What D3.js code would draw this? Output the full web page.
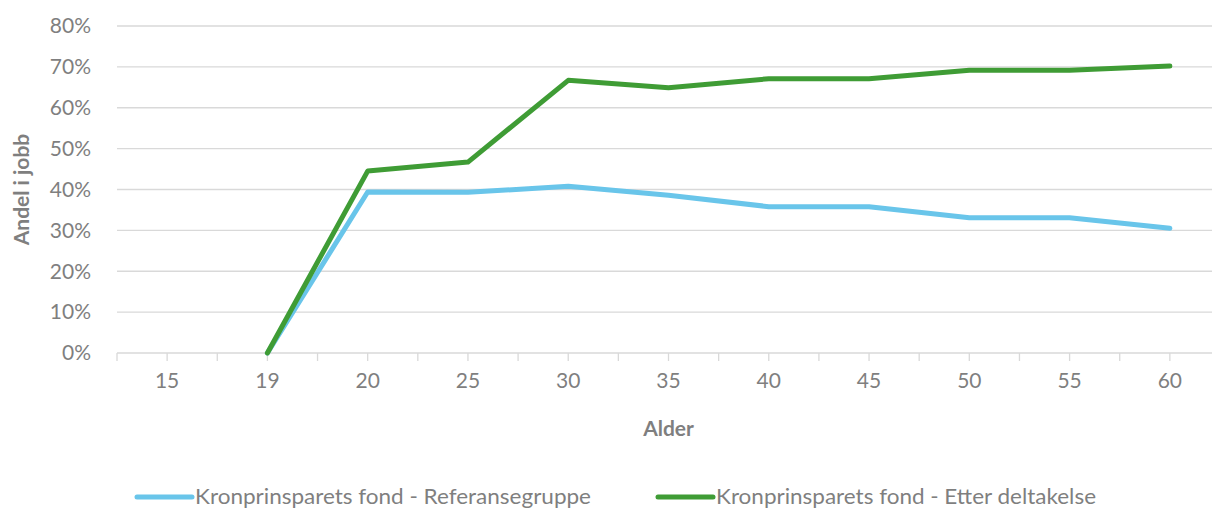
<!DOCTYPE html>
<html lang="no">
<head>
<meta charset="UTF-8">
<title>Andel i jobb</title>
<script src="https://cdn.jsdelivr.net/npm/d3@7/dist/d3.min.js"></script>
<style>
  body { margin: 0; background: #fff; }
  svg text { font-family: Lato, "Open Sans", sans-serif; fill: #7f7f7f; }
  .grid line { stroke: #d9d9d9; stroke-width: 1.3px; }
  .line { fill: none; stroke-width: 5px; stroke-linejoin: round; stroke-linecap: round; }
</style>
</head>
<body>
<div id="chart"></div>
<script>
// data
var ages = ["15", "19", "20", "25", "30", "35", "40", "45", "50", "55", "60"];
var referanse = [null, 0, 39.4, 39.3, 40.8, 38.6, 35.8, 35.8, 33.1, 33.1, 30.5];
var etter = [null, 0, 44.5, 46.7, 66.7, 64.9, 67.1, 67.1, 69.2, 69.2, 70.2];
var yTicks = [0, 10, 20, 30, 40, 50, 60, 70, 80];
var seriesNames = ["Kronprinsparets fond - Referansegruppe", "Kronprinsparets fond - Etter deltakelse"];
var colors = ["#69c5ea", "#3f9c35"];

var width = 1212, height = 509;
var plotLeft = 117, plotRight = 1220, plotTop = 26, plotBottom = 353;

var svg = d3.select("#chart").append("svg")
    .attr("width", width)
    .attr("height", height);

var x = d3.scaleBand().domain(ages).range([plotLeft, plotRight]);
var y = d3.scaleLinear().domain([0, 80]).range([plotBottom, plotTop]);

// gridlines
svg.append("g").attr("class", "grid")
    .selectAll("line")
    .data(yTicks)
    .enter().append("line")
    .attr("x1", plotLeft).attr("x2", plotRight)
    .attr("y1", function (d) { return y(d); })
    .attr("y2", function (d) { return y(d); });

// y labels
svg.append("g").selectAll("text")
    .data(yTicks)
    .enter().append("text")
    .attr("x", 91)
    .attr("y", function (d) { return y(d); })
    .attr("dy", "0.35em")
    .attr("text-anchor", "end")
    .style("font-size", "21px")
    .text(function (d) { return d + "%"; });

// x axis ticks (band edges and centers)
var tickPos = [];
ages.forEach(function (a) {
    tickPos.push(x(a));
    tickPos.push(x(a) + x.bandwidth() / 2);
});
tickPos.push(plotRight);
svg.append("g").selectAll("line")
    .data(tickPos)
    .enter().append("line")
    .attr("x1", function (d) { return d; })
    .attr("x2", function (d) { return d; })
    .attr("y1", plotBottom).attr("y2", plotBottom + 8)
    .attr("stroke", "#d9d9d9").attr("stroke-width", 1.3);

svg.append("g").selectAll("text")
    .data(ages)
    .enter().append("text")
    .attr("x", function (d) { return x(d) + x.bandwidth() / 2; })
    .attr("y", 388)
    .attr("text-anchor", "middle")
    .style("font-size", "21px")
    .text(function (d) { return d; });

// axis titles
svg.append("text")
    .attr("x", (plotLeft + plotRight) / 2)
    .attr("y", 436)
    .attr("text-anchor", "middle")
    .style("font-size", "21px")
    .style("font-weight", "bold")
    .text("Alder");

svg.append("text")
    .attr("transform", "translate(29," + ((plotTop + plotBottom) / 2) + ") rotate(-90)")
    .attr("text-anchor", "middle")
    .style("font-size", "21px")
    .style("font-weight", "bold")
    .text("Andel i jobb");

// lines
var line = d3.line()
    .defined(function (d) { return d.v !== null; })
    .x(function (d) { return x(d.a) + x.bandwidth() / 2; })
    .y(function (d) { return y(d.v); });

[referanse, etter].forEach(function (vals, i) {
    var pts = ages.map(function (a, j) { return { a: a, v: vals[j] }; });
    svg.append("path")
        .attr("class", "line")
        .attr("stroke", colors[i])
        .attr("d", line(pts));
});

// legend
var legendX = [137, 658];
var legendW = [396, 380];
seriesNames.forEach(function (name, i) {
    var g = svg.append("g").attr("transform", "translate(" + legendX[i] + ",497)");
    g.append("line")
        .attr("x1", 0).attr("x2", 55)
        .attr("stroke", colors[i])
        .attr("stroke-width", 5)
        .attr("stroke-linecap", "round");
    g.append("text")
        .attr("x", 58)
        .attr("dy", "0.35em")
        .attr("textLength", legendW[i])
        .attr("lengthAdjust", "spacingAndGlyphs")
        .style("font-size", "21px")
        .text(name);
});
</script>
</body>
</html>
